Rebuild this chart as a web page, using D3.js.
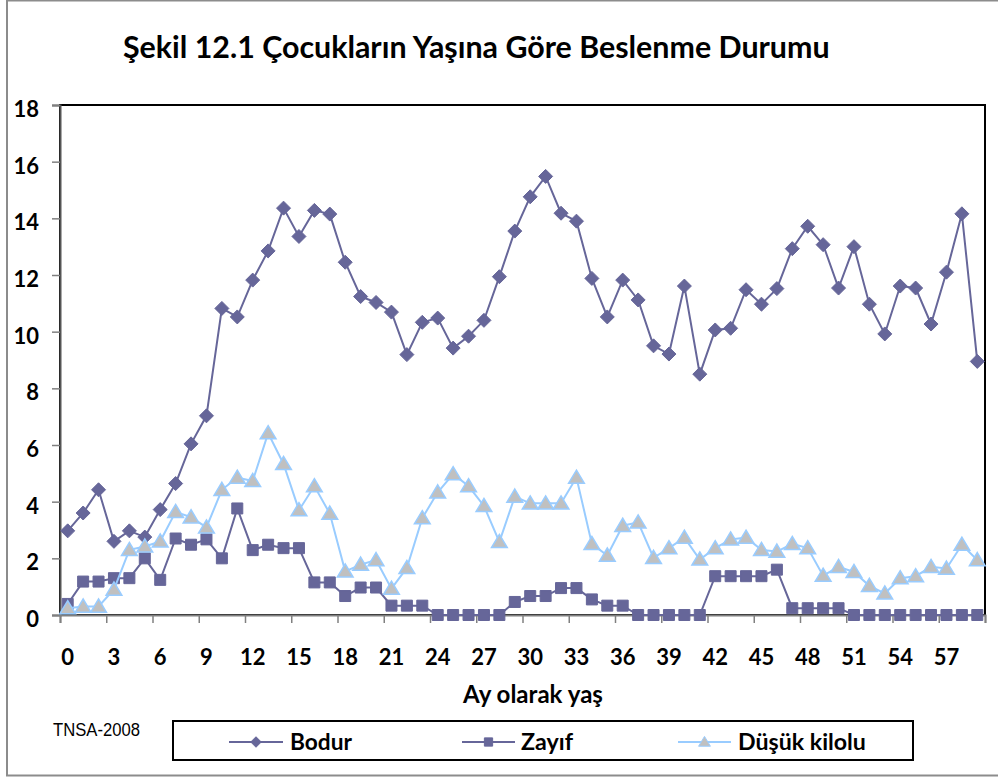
<!DOCTYPE html>
<html>
<head>
<meta charset="utf-8">
<script src="https://cdn.jsdelivr.net/npm/d3@7"></script>
<style>
  body { margin: 0; background: #fff; }
  svg { display: block; }
  text { font-family: Lato, "Open Sans", sans-serif; font-weight: bold; fill: #000; }
</style>
</head>
<body>
<svg id="chart" width="998" height="778"></svg>
<script>
// ages in months, 0..59
const ages = d3.range(0, 60)
const tickLabels = d3.range(0, 60, 3)
const yTicks = d3.range(0, 19, 2)

const bodur = [2.97, 3.6, 4.42, 2.6, 2.97, 2.75, 3.72, 4.64, 6.04, 7.03,
    10.82, 10.52, 11.82, 12.85, 14.36, 13.36, 14.28, 14.15, 12.45, 11.24,
    11.03, 10.69, 9.19, 10.33, 10.48, 9.42, 9.84, 10.4, 11.94, 13.55,
    14.76, 15.48, 14.18, 13.9, 11.88, 10.52, 11.82, 11.12, 9.5, 9.21,
    11.61, 8.5, 10.06, 10.12, 11.48, 10.97, 11.52, 12.93, 13.72, 13.07,
    11.54, 13.0, 10.97, 9.92, 11.61, 11.54, 10.27, 12.1, 14.16, 8.95]

const zayif = [0.39, 1.18, 1.18, 1.3, 1.3, 2.0, 1.24, 2.7, 2.48, 2.67,
    2.0, 3.76, 2.29, 2.48, 2.36, 2.36, 1.15, 1.15, 0.67, 0.97,
    0.97, 0.33, 0.33, 0.33, 0, 0, 0, 0, 0, 0.46,
    0.67, 0.67, 0.95, 0.95, 0.55, 0.33, 0.33, 0, 0, 0,
    0, 0, 1.37, 1.37, 1.37, 1.37, 1.6, 0.24, 0.24, 0.24,
    0.24, 0, 0, 0, 0, 0, 0, 0, 0, 0]

const dusuk = [0.24, 0.3, 0.3, 0.9, 2.3, 2.42, 2.6, 3.64, 3.45, 3.09,
    4.42, 4.85, 4.73, 6.42, 5.33, 3.7, 4.55, 3.58, 1.54, 1.78,
    1.94, 0.93, 1.66, 3.42, 4.33, 4.97, 4.55, 3.85, 2.58, 4.18,
    3.94, 3.94, 3.94, 4.85, 2.51, 2.1, 3.15, 3.27, 2.02, 2.36,
    2.73, 1.96, 2.36, 2.67, 2.73, 2.3, 2.24, 2.51, 2.36, 1.39,
    1.7, 1.52, 1.03, 0.76, 1.3, 1.37, 1.7, 1.64, 2.48, 1.94]

const seriesNames = ["Bodur", "Zayıf", "Düşük kilolu"]

const plot = {left: 60, right: 985, top: 105, bottom: 615}

const svg = d3.select("#chart")

// outer frame
svg.append("rect")
    .attr("x", 7).attr("y", 0.5)
    .attr("width", 1000).attr("height", 775)
    .style("fill", "none").style("stroke", "#8c8c8c").style("stroke-width", 2)

const x = d3.scaleBand().domain(ages).range([plot.left, plot.right]).padding(0)
const xEdge = d3.scaleLinear().domain([0, 60]).range([plot.left, plot.right])
const y = d3.scaleLinear().domain([0, 18]).range([plot.bottom, plot.top])
const cx = d => x(d) + x.bandwidth() / 2

// plot area border
svg.append("rect")
    .attr("x", plot.left).attr("y", plot.top)
    .attr("width", plot.right - plot.left).attr("height", plot.bottom - plot.top)
    .style("fill", "none").style("stroke", "#000").style("stroke-width", 2)

// y axis
const yAxis = svg.append("g")
    .attr("transform", `translate(${plot.left},0)`)
    .call(d3.axisLeft(y).tickValues(yTicks).tickSize(8).tickFormat(""))
yAxis.select(".domain").style("stroke", "#555").style("stroke-width", 2)
yAxis.selectAll(".tick line").style("stroke", "#808080").style("stroke-width", 1.5)

svg.append("g").selectAll("text")
    .data(yTicks)
    .join("text")
    .attr("x", 39)
    .attr("y", d => y(d) + 12)
    .attr("text-anchor", "end")
    .style("font-size", "22px")
    .text(d => d)

// x axis: ticks between categories every 3 months
const xAxis = svg.append("g")
    .attr("transform", `translate(0,${plot.bottom})`)
    .call(d3.axisBottom(xEdge).tickValues(d3.range(0, 61, 3)).tickSize(8).tickFormat(""))
xAxis.select(".domain").style("stroke", "#808080").style("stroke-width", 2)
xAxis.selectAll(".tick line").style("stroke", "#808080").style("stroke-width", 1.5)

svg.append("g").selectAll("text")
    .data(tickLabels)
    .join("text")
    .attr("x", d => cx(d))
    .attr("y", 665)
    .attr("text-anchor", "middle")
    .style("font-size", "22px")
    .text(d => d)

function fitWidth(sel, w) {
    const len = sel.node().getComputedTextLength()
    const fs = parseFloat(sel.style("font-size"))
    sel.style("font-size", (fs * w / len) + "px")
}

// titles
const title = svg.append("text")
    .attr("x", 123).attr("y", 58)
    .style("font-size", "26px")
    .text("Şekil 12.1 Çocukların Yaşına Göre Beslenme Durumu")
fitWidth(title, 707)

const xTitle = svg.append("text")
    .attr("x", 463).attr("y", 703)
    .style("font-size", "22px")
    .text("Ay olarak yaş")
fitWidth(xTitle, 140)

svg.append("text")
    .attr("x", 53).attr("y", 736)
    .attr("textLength", 87)
    .attr("lengthAdjust", "spacingAndGlyphs")
    .style("font-family", "'Liberation Sans', Arial, sans-serif")
    .style("font-weight", "normal")
    .style("font-size", "18px")
    .text("TNSA-2008")

// markers
const markers = {
    diamond: r => `M0,${-r}L${r},0L0,${r}L${-r},0Z`,
    square: r => `M${-r},${-r}H${r}V${r}H${-r}Z`,
    triangle: r => `M0,${-r}L${r * 1.05},${r * 0.75}H${-r * 1.05}Z`
}

const series = [
    {name: seriesNames[0], values: bodur, color: "#666699", fill: "#666699", stroke: "#666699", marker: "diamond", r: 7},
    {name: seriesNames[1], values: zayif, color: "#666699", fill: "#666699", stroke: "#666699", marker: "square", r: 5.5},
    {name: seriesNames[2], values: dusuk, color: "#99ccff", fill: "#c0c0c0", stroke: "#99ccff", marker: "triangle", r: 7.5}
]

const line = d3.line().x((d, i) => cx(i)).y(d => y(d))

series.forEach(s => {
    const g = svg.append("g")
    g.append("path")
        .attr("d", line(s.values))
        .style("fill", "none")
        .style("stroke", s.color)
        .style("stroke-width", 2)
    g.selectAll("path.mk")
        .data(s.values)
        .join("path")
        .attr("class", "mk")
        .attr("transform", (d, i) => `translate(${cx(i)},${y(d)})`)
        .attr("d", markers[s.marker](s.r))
        .style("fill", s.fill)
        .style("stroke", s.stroke)
        .style("stroke-width", s.marker === "triangle" ? 1.5 : 1)
})

// legend
const legend = svg.append("g")
legend.append("rect")
    .attr("x", 173).attr("y", 721)
    .attr("width", 740).attr("height", 39)
    .style("fill", "#fff").style("stroke", "#000").style("stroke-width", 2)

const legendPos = [
    {x1: 229, x2: 283, tx: 290, tw: 62},
    {x1: 462, x2: 515, tx: 521, tw: 52},
    {x1: 678, x2: 731, tx: 738, tw: 128}
]

series.forEach((s, i) => {
    const p = legendPos[i]
    const ly = 742
    legend.append("line")
        .attr("x1", p.x1).attr("x2", p.x2)
        .attr("y1", ly).attr("y2", ly)
        .style("stroke", s.color).style("stroke-width", 2)
    legend.append("path")
        .attr("transform", `translate(${(p.x1 + p.x2) / 2},${ly})`)
        .attr("d", markers[s.marker](s.r * 0.75))
        .style("fill", s.fill)
        .style("stroke", s.stroke)
    const t = legend.append("text")
        .attr("x", p.tx).attr("y", 750)
        .style("font-size", "22px")
        .text(s.name)
    fitWidth(t, p.tw)
})
</script>
</body>
</html>
